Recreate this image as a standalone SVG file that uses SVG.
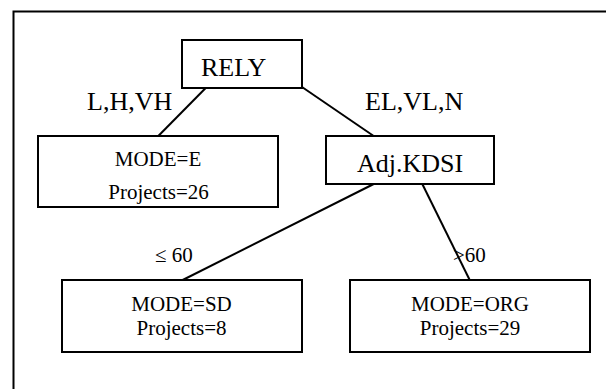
<svg xmlns="http://www.w3.org/2000/svg" width="606" height="389" viewBox="0 0 606 389">
<style>
.box{fill:#fff;stroke:#000;stroke-width:2}
.ln{stroke:#000;stroke-width:2;fill:none}
.big{font-family:"Liberation Serif","Times New Roman",serif;font-size:26px;fill:#000}
.sm{font-family:"Liberation Serif","Times New Roman",serif;font-size:21px;fill:#000}
</style>
<rect x="0" y="0" width="606" height="389" fill="#fff"/>
<path class="ln" d="M13.5 400 V11.5 H620"/>
<g id="connectors">
<line class="ln" x1="205.7" y1="88" x2="158.3" y2="136"/>
<line class="ln" x1="302" y1="87" x2="373.7" y2="136"/>
<line class="ln" x1="373.7" y1="184" x2="182.7" y2="280"/>
<line class="ln" x1="422.3" y1="184" x2="469.7" y2="280"/>
<text class="big" x="87" y="110">L,H,VH</text>
<text class="big" x="365" y="110">EL,VL,N</text>
<text class="sm" x="155" y="261.7">≤ 60</text>
<text class="sm" x="453" y="261.7">&gt;60</text>
</g>
<g id="rely">
<rect class="box" x="182" y="40" width="120" height="48"/>
<text class="big" x="201" y="75.7">RELY</text>
</g>
<g id="modeE">
<rect class="box" x="38" y="136" width="240" height="71"/>
<text class="sm" x="158" y="166" text-anchor="middle">MODE=E</text>
<text class="sm" x="158.5" y="198.5" text-anchor="middle">Projects=26</text>
</g>
<g id="adjkdsi">
<rect class="box" x="326" y="136" width="168" height="48"/>
<text class="big" x="410" y="171.7" text-anchor="middle">Adj.KDSI</text>
</g>
<g id="modeSD">
<rect class="box" x="62" y="280" width="240" height="72"/>
<text class="sm" x="181.5" y="310.7" text-anchor="middle">MODE=SD</text>
<text class="sm" x="181.5" y="335" text-anchor="middle">Projects=8</text>
</g>
<g id="modeORG">
<rect class="box" x="350" y="280" width="240" height="72"/>
<text class="sm" x="470" y="310.7" text-anchor="middle">MODE=ORG</text>
<text class="sm" x="470" y="335" text-anchor="middle">Projects=29</text>
</g>
</svg>
